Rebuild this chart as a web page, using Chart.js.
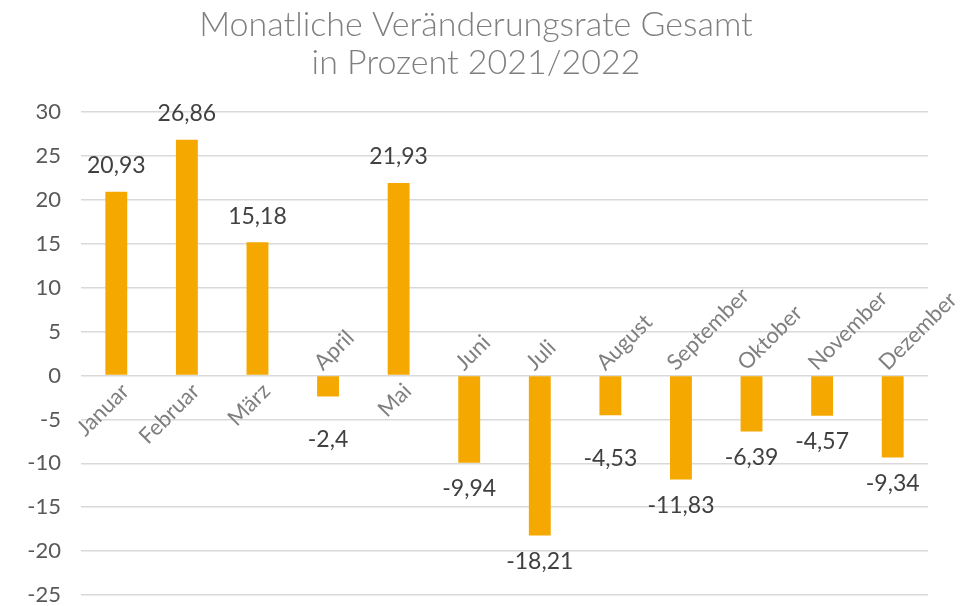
<!DOCTYPE html>
<html>
<head>
<meta charset="utf-8">
<script src="https://cdn.jsdelivr.net/npm/chart.js@4"></script>
<style>
  html, body { margin: 0; padding: 0; background: #fff; }
  #wrap { width: 968px; height: 606px; position: relative; }
</style>
</head>
<body>
<div id="wrap"><canvas id="rate"></canvas></div>
<script>
var monate = ["Januar", "Februar", "März", "April", "Mai", "Juni", "Juli", "August", "September", "Oktober", "November", "Dezember"]
var rate = [20.93, 26.86, 15.18, -2.4, 21.93, -9.94, -18.21, -4.53, -11.83, -6.39, -4.57, -9.34]
var titel = ["Monatliche Veränderungsrate Gesamt", "in Prozent 2021/2022"]

var schrift = "Lato, 'Noto Sans', sans-serif"

// writes the values at the bar ends and the month names next to the zero line
var beschriftung = {
    id: "beschriftung",
    afterDatasetsDraw(chart, args, opts) {
        var ctx = chart.ctx
        var meta = chart.getDatasetMeta(0)
        var x = chart.scales.x
        var null_y = chart.scales.y.getPixelForValue(0)
        ctx.save()
        ctx.textAlign = "center"
        ctx.textBaseline = "middle"
        ctx.fillStyle = "#404040"
        ctx.font = "23px " + schrift
        meta.data.forEach((bar, i) => {
            var v = rate[i]
            var abstand = 26 + (opts.extra[i] || 0)
            var y = v >= 0 ? bar.y - abstand : bar.y + abstand
            ctx.fillText(String(v).replace(".", ","), bar.x, y)
        })

        ctx.fillStyle = "#7F7F7F"
        ctx.font = "22px " + schrift
        monate.forEach((m, i) => {
            var px = x.getPixelForValue(i)
            ctx.save()
            if (rate[i] >= 0) {
                ctx.translate(px + 9, null_y + 12)
                ctx.rotate(-Math.PI / 4)
                ctx.textAlign = "right"
            } else {
                ctx.translate(px - 10, null_y - 9)
                ctx.rotate(-Math.PI / 4)
                ctx.textAlign = "left"
            }
            ctx.fillText(m, 0, 0)
            ctx.restore()
        })
        ctx.restore()
    }
}

var chartRate = new Chart(document.getElementById("rate"), {
    type: "bar",
    data: {
        labels: monate,
        datasets: [{
            label: "Veränderungsrate",
            data: rate,
            backgroundColor: "#F5A800",
            borderWidth: 0,
            categoryPercentage: 1,
            barPercentage: 0.31
        }]
    },
    options: {
        responsive: true,
        maintainAspectRatio: false,
        animation: false,
        layout: { padding: { left: 24, right: 40, top: 0, bottom: 11 } },
        scales: {
            x: { display: false },
            y: {
                min: -25,
                max: 30,
                afterFit: (s) => {
                    s.width = 57
                    s.paddingTop = 0
                    s.paddingBottom = 0
                },
                border: { display: false },
                grid: { color: "#D9D9D9", lineWidth: 1.5, drawTicks: false },
                ticks: {
                    stepSize: 5,
                    padding: 20,
                    color: "#595959",
                    font: { family: schrift, size: 22 },
                    callback: (v) => String(v)
                }
            }
        },
        plugins: {
            legend: { display: false },
            tooltip: { enabled: false },
            title: {
                display: true,
                text: titel,
                color: "#7F7F7F",
                font: { family: schrift, size: 34, weight: "300", lineHeight: 1.12 },
                padding: { top: 6, bottom: 30 }
            },
            beschriftung: { extra: { 3: 17, 7: 17 } }
        }
    },
    plugins: [beschriftung]
})
</script>
</body>
</html>
